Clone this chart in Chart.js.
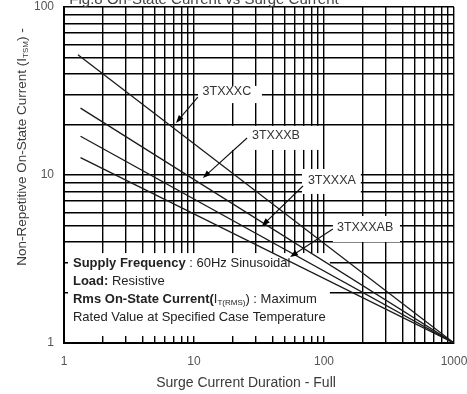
<!DOCTYPE html>
<html>
<head>
<meta charset="utf-8">
<script src="https://cdn.jsdelivr.net/npm/chart.js@4"></script>
<style>
  html, body { margin: 0; padding: 0; background: #fff; overflow: hidden; }
  canvas { display: block; }
</style>
</head>
<body>
<canvas id="c" width="467" height="394"></canvas>
<script>
// Surge current duration (cycles) at both ends of each rating line
const durationC = [1.28, 1000];
const durationB = [1.34, 1000];
const durationA = [1.34, 1000];
const durationAB = [1.34, 1000];
// Non-repetitive on-state current (multiple of rated I_T(RMS))
const currentC = [52, 1];
const currentB = [25, 1];
const currentA = [17, 1];
const currentAB = [12.7, 1];
const seriesNames = ['3TXXXC', '3TXXXB', '3TXXXA', '3TXXXAB'];
const xTickLabels = ['1', '10', '100', '1000'];
const yTickLabels = ['1', '10', '100'];

const FONT = '"Liberation Sans", Arial, Helvetica, sans-serif';

// 1..9 x 10^k grid positions between lo and hi
function decadeSteps(lo, hi) {
  const out = [];
  for (let d = lo; d < hi; d *= 10) {
    for (let m = 1; m < 10; m++) out.push(m * d);
  }
  out.push(hi);
  return out;
}
const xGrid = decadeSteps(1, 1000);
const yGrid = decadeSteps(1, 100);

// Callout labels with leader arrows, placed in axis units
const callouts = [
  { name: seriesNames[0], at: [17.9, 31.6], from: [10.7, 29.1], tip: [7.27, 20.4] },
  { name: seriesNames[1], at: [42.7, 17.1], from: [25.6, 16.6], tip: [11.7, 9.6] },
  { name: seriesNames[2], at: [115, 9.21], from: [68.9, 8.6], tip: [33.3, 4.97] },
  { name: seriesNames[3], at: [207, 4.84], from: [117, 4.77], tip: [54.8, 3.25] }
];

// Blank panels behind the labels (axis units: [x1,x2],[y1,y2])
const panels = [
  { x: [10.74, 33.3], y: [33.9, 26.8] },
  { x: [18.3, 94.8], y: [19.6, 14.1] },
  { x: [67.7, 192], y: [10.86, 7.71] },
  { x: [117, 384], y: [5.70, 3.99] },
  { x: [1.073, 111], y: [3.43, 1.10] }
];
const notesPanel = panels[4];

// Condition notes: each line is a list of [text, weight, isSubscript]
const notes = [
  [['Supply Frequency', 'bold'], [' : 60Hz Sinusoidal', 'normal']],
  [['Load:', 'bold'], [' Resistive', 'normal']],
  [['Rms On-State Current(', 'bold'], ['I', 'normal'], ['T(RMS)', 'normal', true], [') : Maximum', 'normal']],
  [['Rated Value at Specified Case Temperature', 'normal']]
];

function runFont(weight, sub, size) {
  return (weight === 'bold' ? 'bold ' : '') + (sub ? Math.round(size * 0.62) : size) + 'px ' + FONT;
}
function runsWidth(ctx, runs, size) {
  let w = 0;
  for (const r of runs) { ctx.font = runFont(r[1], r[2], size); w += ctx.measureText(r[0]).width; }
  return w;
}
function drawRuns(ctx, runs, x, y, size) {
  let cx = x;
  for (const r of runs) {
    ctx.font = runFont(r[1], r[2], size);
    ctx.fillText(r[0], cx, r[2] ? y + size * 0.3 : y);
    cx += ctx.measureText(r[0]).width;
  }
}

function px(chart, v) {
  return [chart.scales.x.getPixelForValue(v[0]), chart.scales.y.getPixelForValue(v[1])];
}

const decorPlugin = {
  id: 'decor',
  beforeDatasetsDraw(chart) {
    const ctx = chart.ctx;
    ctx.save();
    ctx.fillStyle = '#ffffff';
    for (const p of panels) {
      const [x1, y1] = px(chart, [p.x[0], p.y[0]]);
      const [x2, y2] = px(chart, [p.x[1], p.y[1]]);
      ctx.fillRect(Math.min(x1, x2), Math.min(y1, y2), Math.abs(x2 - x1), Math.abs(y2 - y1));
    }
    ctx.restore();
  },
  afterDraw(chart) {
    const ctx = chart.ctx;
    const area = chart.chartArea;
    const xs = chart.scales.x, ys = chart.scales.y;
    ctx.save();

    // tick labels
    ctx.fillStyle = '#555';
    ctx.font = '12px ' + FONT;
    ctx.textBaseline = 'middle';
    ctx.textAlign = 'right';
    for (const t of yTickLabels) ctx.fillText(t, area.left - 10, ys.getPixelForValue(Number(t)));
    ctx.textAlign = 'center';
    for (const t of xTickLabels) ctx.fillText(t, xs.getPixelForValue(Number(t)), area.bottom + 19);

    // callout leaders and labels
    for (const c of callouts) {
      const [fx, fy] = px(chart, c.from);
      const [tx, ty] = px(chart, c.tip);
      const ang = Math.atan2(ty - fy, tx - fx);
      ctx.strokeStyle = '#111';
      ctx.lineWidth = 1.1;
      ctx.beginPath();
      ctx.moveTo(fx, fy);
      ctx.lineTo(tx - Math.cos(ang) * 4, ty - Math.sin(ang) * 4);
      ctx.stroke();
      ctx.fillStyle = '#000';
      ctx.beginPath();
      ctx.moveTo(tx, ty);
      ctx.lineTo(tx - Math.cos(ang) * 8 + Math.sin(ang) * 3, ty - Math.sin(ang) * 8 - Math.cos(ang) * 3);
      ctx.lineTo(tx - Math.cos(ang) * 8 - Math.sin(ang) * 3, ty - Math.sin(ang) * 8 + Math.cos(ang) * 3);
      ctx.closePath();
      ctx.fill();
      const [lx, ly] = px(chart, c.at);
      ctx.fillStyle = '#333';
      ctx.font = '12.5px ' + FONT;
      ctx.textAlign = 'center';
      ctx.textBaseline = 'middle';
      ctx.fillText(c.name, lx, ly);
    }

    // condition notes
    const [nx, ny] = px(chart, [notesPanel.x[0], notesPanel.y[0]]);
    ctx.fillStyle = '#222';
    ctx.textAlign = 'left';
    ctx.textBaseline = 'middle';
    notes.forEach((line, i) => drawRuns(ctx, line, nx + 5, ny + 10 + i * 18, 13));

    // x axis title
    ctx.fillStyle = '#3a3a3a';
    ctx.font = '14px ' + FONT;
    ctx.textAlign = 'center';
    ctx.textBaseline = 'middle';
    ctx.fillText('Surge Current Duration - Full', 246, 383);

    // y axis title with subscript
    const yRuns = [['Non-Repetitive On-State Current (I', 'normal'], ['TSM', 'normal', true], [') -', 'normal']];
    ctx.translate(22, 147);
    ctx.rotate(-Math.PI / 2);
    ctx.textAlign = 'left';
    const w = runsWidth(ctx, yRuns, 13.5);
    drawRuns(ctx, yRuns, -w / 2, 0, 13.5);
    ctx.setTransform(1, 0, 0, 1, 0, 0);

    // figure caption running off the top edge
    ctx.fillStyle = '#444';
    ctx.font = '15px ' + FONT;
    ctx.textAlign = 'center';
    ctx.textBaseline = 'alphabetic';
    ctx.fillText('Fig.8 On-State Current vs Surge Current', 204, 4);
    ctx.restore();
  }
};

function lineSet(label, xs, ys) {
  return {
    label,
    data: xs.map((x, i) => ({ x, y: ys[i] })),
    showLine: true,
    borderColor: '#1a1a1a',
    borderWidth: 1.3,
    pointRadius: 0,
    fill: false
  };
}

function axis(gridValues, fitKey, fitSize) {
  return {
    type: 'logarithmic',
    min: gridValues[0],
    max: gridValues[gridValues.length - 1],
    afterBuildTicks: (s) => { s.ticks = gridValues.map(v => ({ value: v })); },
    afterFit: (s) => { s[fitKey] = fitSize; },
    grid: { color: '#000', lineWidth: 1.4, drawTicks: false },
    border: { color: '#000', width: 2 },
    ticks: { display: false, autoSkip: false }
  };
}

new Chart(document.getElementById('c'), {
  type: 'scatter',
  data: {
    datasets: [
      lineSet(seriesNames[0], durationC, currentC),
      lineSet(seriesNames[1], durationB, currentB),
      lineSet(seriesNames[2], durationA, currentA),
      lineSet(seriesNames[3], durationAB, currentAB)
    ]
  },
  options: {
    responsive: false,
    animation: false,
    devicePixelRatio: 1,
    layout: { padding: { left: 0, right: 13, top: 7, bottom: 0 } },
    plugins: { legend: { display: false }, tooltip: { enabled: false } },
    scales: {
      x: axis(xGrid, 'height', 51),
      y: axis(yGrid, 'width', 64)
    }
  },
  plugins: [decorPlugin]
});
</script>
</body>
</html>
